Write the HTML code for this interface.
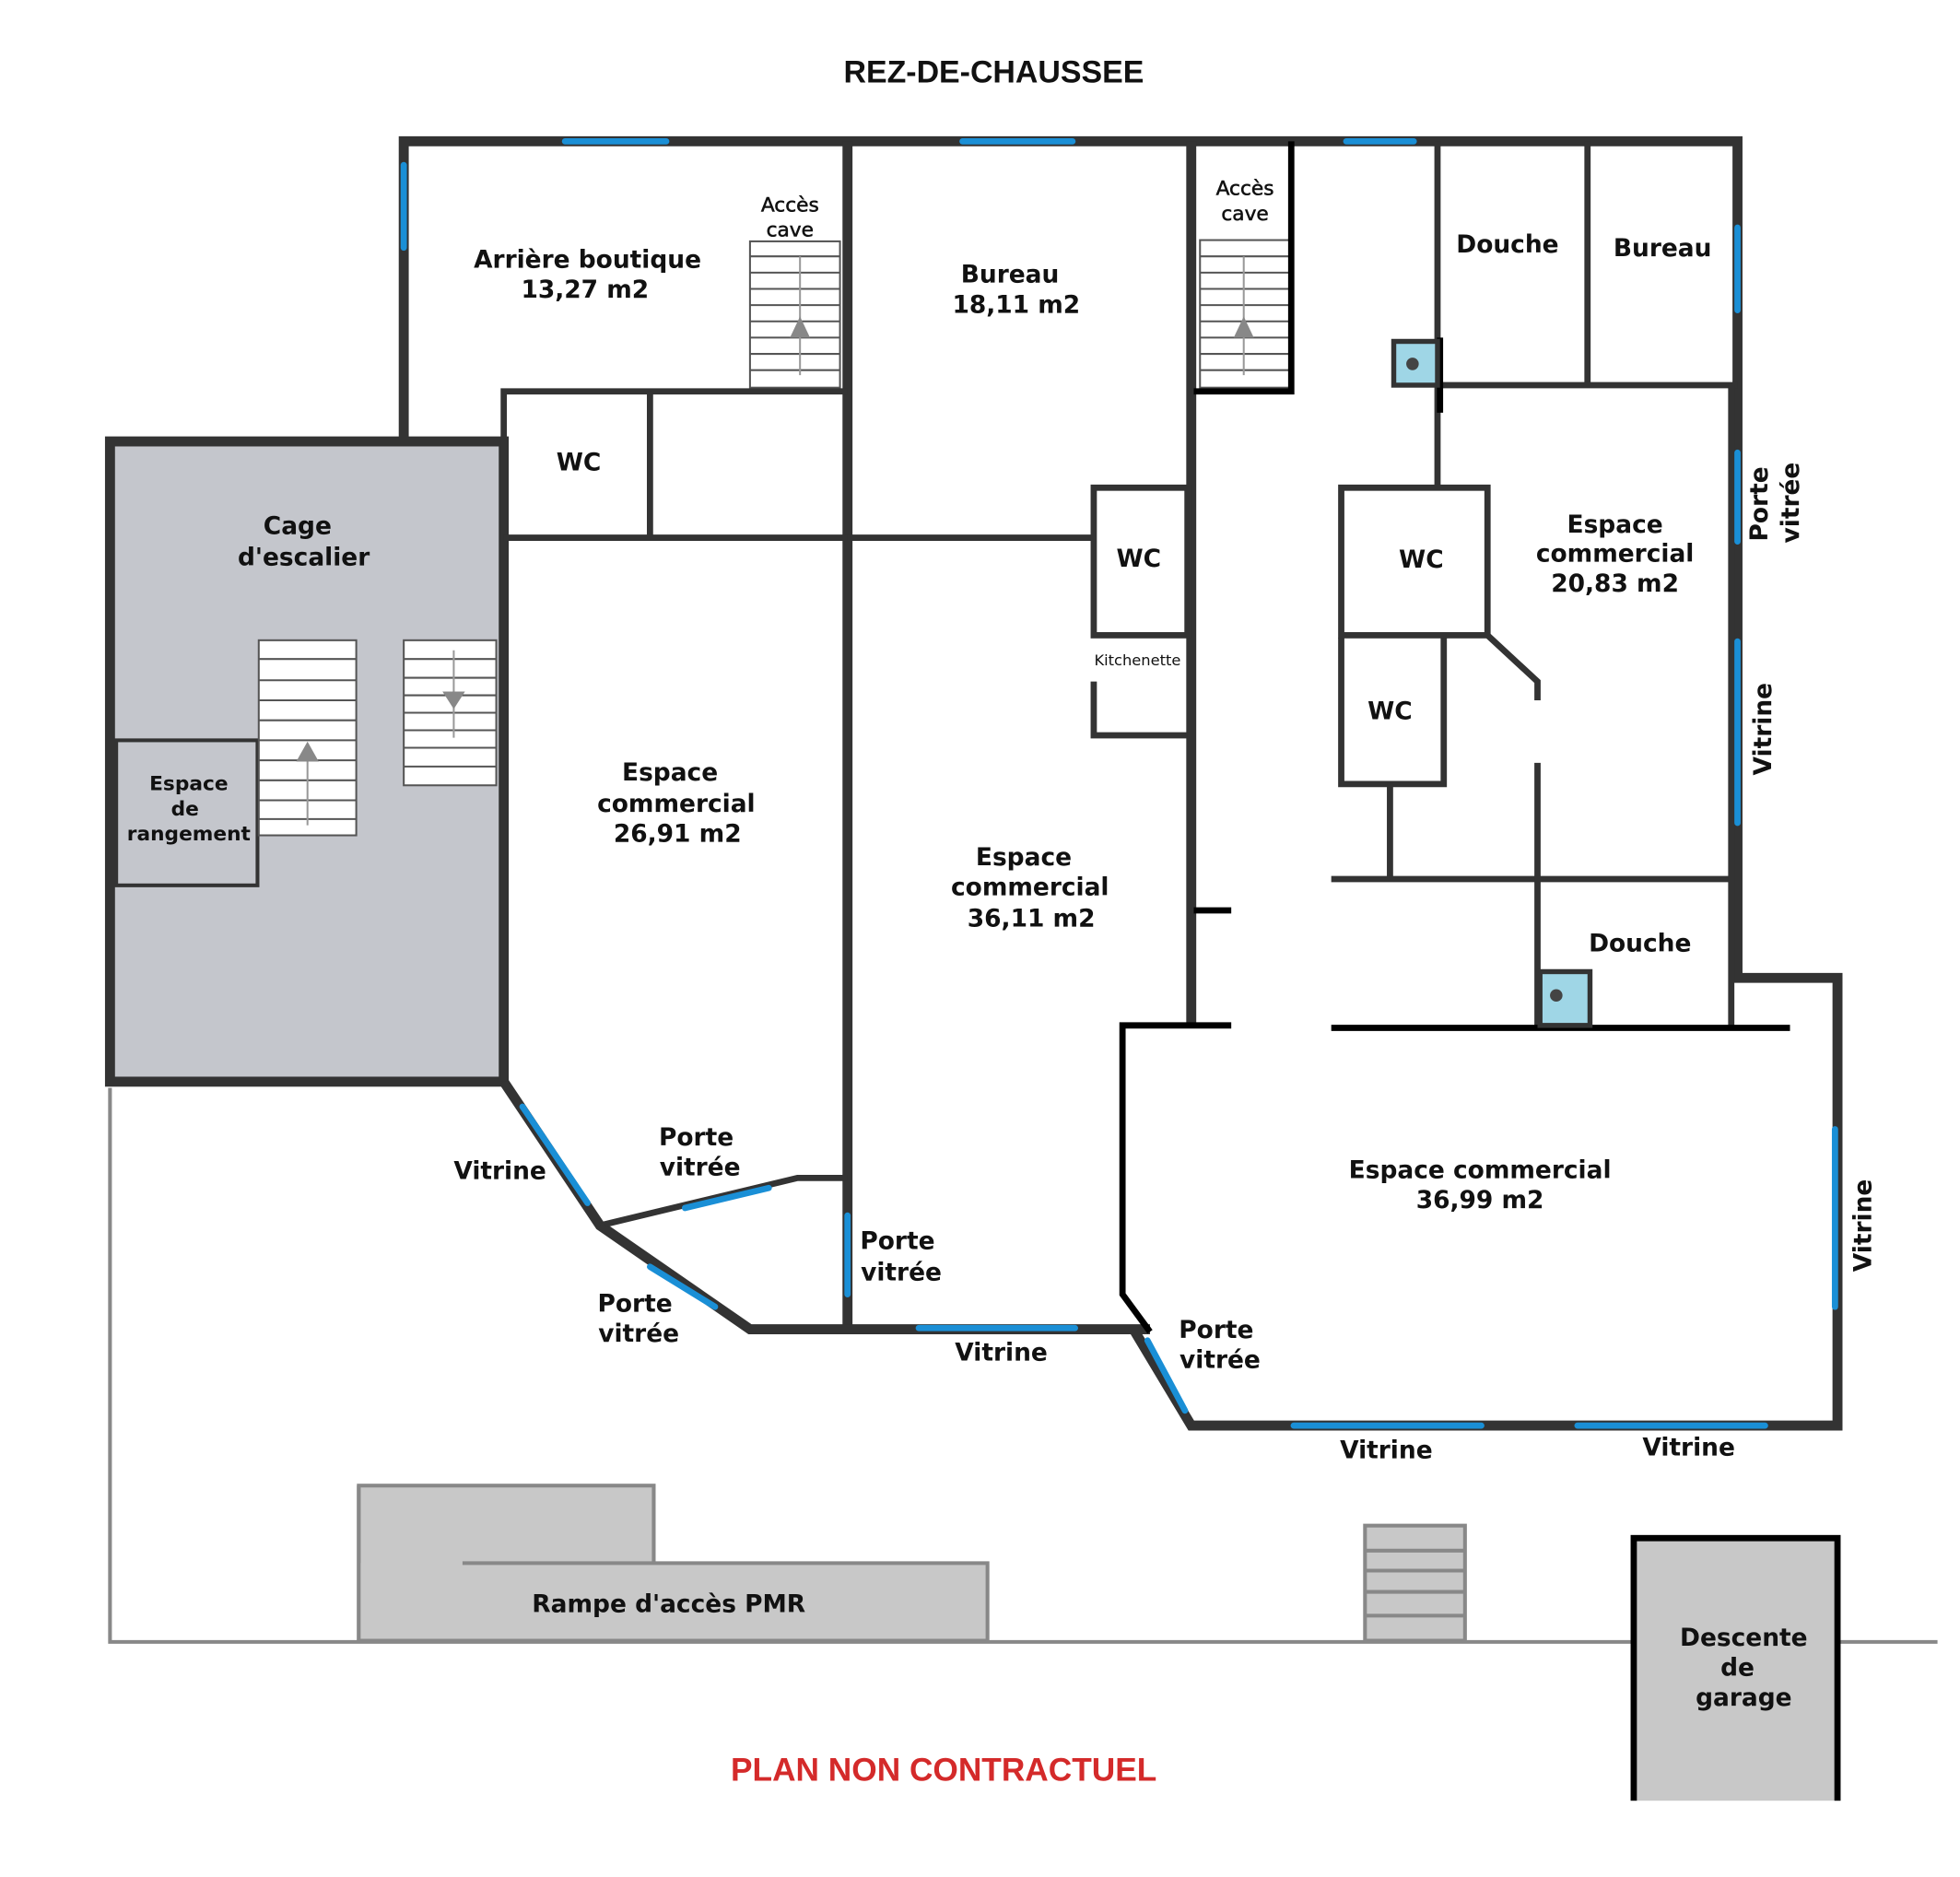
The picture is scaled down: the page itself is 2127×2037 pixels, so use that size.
<!DOCTYPE html>
<html><head><meta charset="utf-8"><style>html,body{margin:0;padding:0;background:#fff}svg{display:block}
text{font-family:"DejaVu Sans","Liberation Sans",sans-serif;font-size:19.5px;font-weight:bold;fill:#111;text-anchor:middle}</style></head>
<body>
<svg width="2127" height="2037" viewBox="0 0 1568 1501" preserveAspectRatio="none" xmlns="http://www.w3.org/2000/svg">
<rect width="1568" height="1501" fill="#fff"/>
<g stroke="#888" stroke-width="3" fill="none">
<polyline points="88,870 88,1313 1550,1313"/>
</g>
<rect x="287" y="1188" width="236" height="124" fill="#c8c8c8" stroke="#888" stroke-width="3"/>
<rect x="287" y="1250" width="503" height="62" fill="#c8c8c8" stroke="none"/>
<polyline points="370,1250 790,1250 790,1312 287,1312" fill="none" stroke="#888" stroke-width="3"/>
<line x1="287" y1="1188" x2="287" y2="1312" stroke="#888" stroke-width="3"/>
<rect x="1092" y="1220" width="80" height="92" fill="#c8c8c8" stroke="#888" stroke-width="3"/>
<g stroke="#888" stroke-width="3"><line x1="1092" y1="1240" x2="1172" y2="1240"/><line x1="1092" y1="1256" x2="1172" y2="1256"/><line x1="1092" y1="1273" x2="1172" y2="1273"/><line x1="1092" y1="1292" x2="1172" y2="1292"/></g>
<rect x="1307" y="1230" width="163" height="215" fill="#c8c8c8" stroke="#000" stroke-width="5"/>
<rect x="1303" y="1440" width="172" height="10" fill="#fff"/>
<rect x="88" y="353" width="315" height="512" fill="#c4c6cc" stroke="#333" stroke-width="8"/>
<rect x="93" y="592" width="113" height="116" fill="#c4c6cc" stroke="#333" stroke-width="3"/>
<g stroke="#555" stroke-width="1.5" fill="#fff">
<rect x="207" y="512" width="78" height="156"/><rect x="323" y="512" width="74" height="116"/>
<rect x="600" y="193" width="72" height="117"/><rect x="960" y="192" width="72" height="118"/>
</g>
<g stroke="#555" stroke-width="1.5">
<path d="M207 527H285M207 544H285M207 560H285M207 576H285M207 592H285M207 608H285M207 624H285M207 640H285M207 655H285"/>
<path d="M323 527H397M323 542H397M323 556H397M323 570H397M323 584H397M323 598H397M323 613H397"/>
<path d="M600 205H672M600 218H672M600 231H672M600 244H672M600 257H672M600 270H672M600 283H672M600 296H672"/>
<path d="M960 205H1032M960 218H1032M960 231H1032M960 244H1032M960 257H1032M960 270H1032M960 283H1032M960 296H1032"/>
<path d="M246 595V660M363 520V590M640 205V300M995 205V300" stroke="#999"/>
</g>
<g fill="#888"><polygon points="246,593 237,609 255,609"/><polygon points="363,567 354,553 372,553"/><polygon points="640,253 632,270 648,270"/><polygon points="995,253 987,270 1003,270"/></g>
<g stroke="#333" stroke-width="8" fill="none" stroke-linejoin="miter">
<polyline points="323,350 323,113 1390,113 1390,782 1470,782 1470,1140 953,1140 908,1065"/>
<line x1="678" y1="113" x2="678" y2="1063"/>
<line x1="953" y1="113" x2="953" y2="818"/>
<polyline points="403,865 480,980 600,1063 920,1063"/>
</g>
<g stroke="#333" stroke-width="5" fill="none">
<polyline points="403,865 403,313 678,313"/>
<line x1="403" y1="430" x2="678" y2="430"/><line x1="520" y1="313" x2="520" y2="430"/>
<line x1="678" y1="430" x2="875" y2="430"/>
<rect x="875" y="390" width="75" height="118"/>
<polyline points="875,545 875,588 950,588"/>
<polyline points="480,980 638,942 678,942"/>
<line x1="480" y1="980" x2="600" y2="1063"/>
<line x1="1150" y1="113" x2="1150" y2="390"/>
<line x1="1270" y1="113" x2="1270" y2="308"/>
<line x1="1150" y1="308" x2="1390" y2="308"/>
<rect x="1073" y="390" width="117" height="118"/>
<polyline points="1073,510 1073,627 1155,627 1155,510"/>
<line x1="1112" y1="627" x2="1112" y2="703"/>
<line x1="1065" y1="703" x2="1385" y2="703"/>
<line x1="1385" y1="308" x2="1385" y2="820"/>
<line x1="1230" y1="703" x2="1230" y2="820"/>
<polyline points="1190,508 1230,545 1230,560"/><line x1="1230" y1="610" x2="1230" y2="703"/>
</g>
<g stroke="#000" stroke-width="5" fill="none">
<polyline points="955,313 1033,313 1033,113"/>
<line x1="1152" y1="270" x2="1152" y2="330"/>
<line x1="955" y1="728" x2="985" y2="728"/>
<polyline points="985,820 898,820 898,1035 920,1065"/>
<line x1="1065" y1="822" x2="1432" y2="822"/>
</g>
<rect x="1115" y="273" width="35" height="35" fill="#9fd6e6" stroke="#333" stroke-width="4"/>
<circle cx="1130" cy="291" r="5" fill="#444"/>
<rect x="1232" y="777" width="40" height="43" fill="#9fd6e6" stroke="#333" stroke-width="4"/>
<circle cx="1245" cy="796" r="5" fill="#444"/>
<g stroke="#1a8fd6" stroke-width="5" stroke-linecap="round">
<line x1="452" y1="113" x2="533" y2="113"/><line x1="770" y1="113" x2="858" y2="113"/><line x1="1077" y1="113" x2="1131" y2="113"/>
<line x1="323" y1="132" x2="323" y2="198"/>
<line x1="1390" y1="182" x2="1390" y2="248"/><line x1="1390" y1="362" x2="1390" y2="433"/><line x1="1390" y1="513" x2="1390" y2="658"/>
<line x1="1468" y1="903" x2="1468" y2="1045"/>
<line x1="1035" y1="1140" x2="1185" y2="1140"/><line x1="1262" y1="1140" x2="1412" y2="1140"/>
<line x1="918" y1="1072" x2="948" y2="1128"/>
<line x1="735" y1="1062" x2="860" y2="1062"/>
<line x1="678" y1="972" x2="678" y2="1035"/>
<line x1="418" y1="885" x2="470" y2="962"/>
<line x1="548" y1="966" x2="615" y2="950"/>
<line x1="520" y1="1013" x2="572" y2="1045"/>
</g>
<text x="795" y="66" style="font-size:25px;font-weight:bold;font-family:'Liberation Sans',sans-serif">REZ-DE-CHAUSSEE</text>
<text x="470" y="214">Arrière boutique</text><text x="468" y="238">13,27 m2</text>
<text x="632" y="169" style="font-size:16px;font-weight:normal;stroke:#111;stroke-width:0.4">Accès</text><text x="632" y="189" style="font-size:16px;font-weight:normal;stroke:#111;stroke-width:0.4">cave</text>
<text x="996" y="156" style="font-size:16px;font-weight:normal;stroke:#111;stroke-width:0.4">Accès</text><text x="996" y="176" style="font-size:16px;font-weight:normal;stroke:#111;stroke-width:0.4">cave</text>
<text x="808" y="226">Bureau</text><text x="813" y="250">18,11 m2</text>
<text x="1206" y="202">Douche</text><text x="1330" y="205">Bureau</text>
<text x="463" y="376">WC</text><text x="911" y="453">WC</text><text x="1137" y="454">WC</text><text x="1112" y="575">WC</text>
<text x="910" y="532" style="font-size:12px;font-weight:normal">Kitchenette</text>
<text x="238" y="427">Cage</text><text x="243" y="452">d'escalier</text>
<text x="151" y="632" style="font-size:16px">Espace</text><text x="148" y="652" style="font-size:16px">de</text><text x="151" y="672" style="font-size:16px">rangement</text>
<text x="536" y="624">Espace</text><text x="541" y="649">commercial</text><text x="542" y="673">26,91 m2</text>
<text x="1292" y="426">Espace</text><text x="1292" y="449">commercial</text><text x="1292" y="473">20,83 m2</text>
<text x="819" y="692">Espace</text><text x="824" y="716">commercial</text><text x="825" y="741">36,11 m2</text>
<text x="1312" y="761">Douche</text>
<text x="1184" y="942">Espace commercial</text><text x="1184" y="966">36,99 m2</text>
<text x="400" y="943">Vitrine</text>
<text x="557" y="916">Porte</text><text x="560" y="940">vitrée</text>
<text x="508" y="1049">Porte</text><text x="511" y="1073">vitrée</text>
<text x="718" y="999">Porte</text><text x="721" y="1024">vitrée</text>
<text x="801" y="1088">Vitrine</text>
<text x="973" y="1070">Porte</text><text x="976" y="1094">vitrée</text>
<text x="1109" y="1166">Vitrine</text><text x="1351" y="1164">Vitrine</text>
<text transform="translate(1414,403) rotate(-90)">Porte</text>
<text transform="translate(1439,402) rotate(-90)">vitrée</text>
<text transform="translate(1417,583) rotate(-90)">Vitrine</text>
<text transform="translate(1497,980) rotate(-90)">Vitrine</text>
<text x="535" y="1289">Rampe d'accès PMR</text>
<text x="1395" y="1316">Descente</text><text x="1390" y="1340">de</text><text x="1395" y="1364">garage</text>
<text x="755" y="1424" style="font-size:26px;font-weight:bold;fill:#d42a2a;font-family:'Liberation Sans',sans-serif">PLAN NON CONTRACTUEL</text>
</svg>
</body></html>
